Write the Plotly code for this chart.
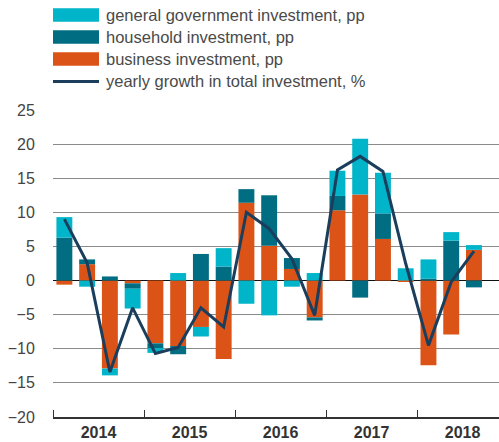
import plotly.graph_objects as go

quarters = ["2014Q1", "2014Q2", "2014Q3", "2014Q4",
            "2015Q1", "2015Q2", "2015Q3", "2015Q4",
            "2016Q1", "2016Q2", "2016Q3", "2016Q4",
            "2017Q1", "2017Q2", "2017Q3", "2017Q4",
            "2018Q1", "2018Q2", "2018Q3"]
years = ["2014", "2015", "2016", "2017", "2018"]

business = [-0.6, 2.4, -12.9, -0.4, -9.2, -9.6, -6.8, -11.5, 11.4, 5.1,
            1.7, -5.4, 10.3, 12.6, 6.1, -0.15, -12.4, -7.9, 4.5]
household = [6.3, 0.7, 0.6, -0.8, -0.7, -1.2, 3.9, 2.05, 2.0, 7.4,
             1.6, -0.45, 2.1, -2.5, 3.75, 0.0, 0.3, 5.85, -1.0]
government = [3.0, -0.9, -1.0, -2.9, -0.7, 1.1, -1.4, 2.7, -3.4, -5.1,
              -0.9, 1.1, 3.7, 8.2, 5.95, 1.8, 2.8, 1.25, 0.7]
growth = [9.0, 2.6, -13.4, -4.0, -10.7, -9.8, -4.0, -6.8, 10.0, 7.6,
          3.2, -5.1, 16.2, 18.2, 16.0, 2.5, -9.5, -0.2, 4.3]

names = ["general government investment, pp", "household investment, pp",
         "business investment, pp", "yearly growth in total investment, %"]
CYAN = "#00b5c9"
TEAL = "#006d82"
ORANGE = "#dc5317"
NAVY = "#1b3e5c"

W, H = 499, 442
ML, MR, MT, MB = 53, 0, 110, 25

x = list(range(len(quarters)))

fig = go.Figure()
for vals, col in [(business, ORANGE), (household, TEAL), (government, CYAN)]:
    fig.add_trace(go.Bar(x=x, y=vals, marker_color=col, marker_line_width=0,
                         width=0.7, showlegend=False))
fig.add_trace(go.Scatter(x=x, y=growth, mode="lines",
                         line=dict(color=NAVY, width=3), showlegend=False))


# legend drawn by hand so the swatches are wide boxes (positions in px)
def px_x(p):
    return (p - ML) / (W - ML - MR)


def px_y(p):
    return (H - MB - p) / (H - MT - MB)


shapes = []
annots = []
rows = [(15, CYAN), (37, TEAL), (59, ORANGE), (81.5, None)]
for name, (cy, col) in zip(names, rows):
    if col:
        shapes.append(dict(type="rect", xref="paper", yref="paper",
                           x0=px_x(53), x1=px_x(99), y0=px_y(cy - 6.7), y1=px_y(cy + 6.7),
                           fillcolor=col, line_width=0))
    else:
        shapes.append(dict(type="line", xref="paper", yref="paper",
                           x0=px_x(53), x1=px_x(99), y0=px_y(cy), y1=px_y(cy),
                           line=dict(color=NAVY, width=3)))
    annots.append(dict(text=name, xref="paper", yref="paper", x=px_x(104), y=px_y(cy),
                       xanchor="left", yanchor="middle", showarrow=False,
                       font=dict(size=16.5, color="#4a4a4a")))

fig.update_layout(
    width=W, height=H,
    margin=dict(l=ML, r=MR, t=MT, b=MB),
    barmode="relative", bargap=0.3,
    plot_bgcolor="white", paper_bgcolor="white",
    font=dict(family="Liberation Sans, Arial, sans-serif", color="#444444"),
    shapes=shapes, annotations=annots,
)
fig.update_xaxes(
    range=[-0.5, 19.1],
    tickvals=[1.5, 5.5, 9.5, 13.5, 17.5], ticktext=years,
    ticks="", tickfont=dict(size=16, color="#333333", weight="bold"),
    showgrid=False, zeroline=False,
    showline=True, linecolor="#333333", linewidth=1.5,
    minor=dict(tick0=-0.5, dtick=4, ticks="inside", ticklen=7,
               tickcolor="#333333", tickwidth=1.3, showgrid=False),
)
fig.update_yaxes(
    range=[-20, 25], dtick=5,
    showgrid=True, gridcolor="#8a8a8a", gridwidth=1.3,
    zeroline=True, zerolinecolor="#111111", zerolinewidth=1.2,
    ticks="outside", ticklen=14, tickcolor="rgba(0,0,0,0)",
    tickfont=dict(size=16, color="#444444"),
)

# drop the default 8px page margin so the figure fills the window
fig.write_html("out.html", config={"displayModeBar": False},
               post_script="document.body.style.margin = '0';")
